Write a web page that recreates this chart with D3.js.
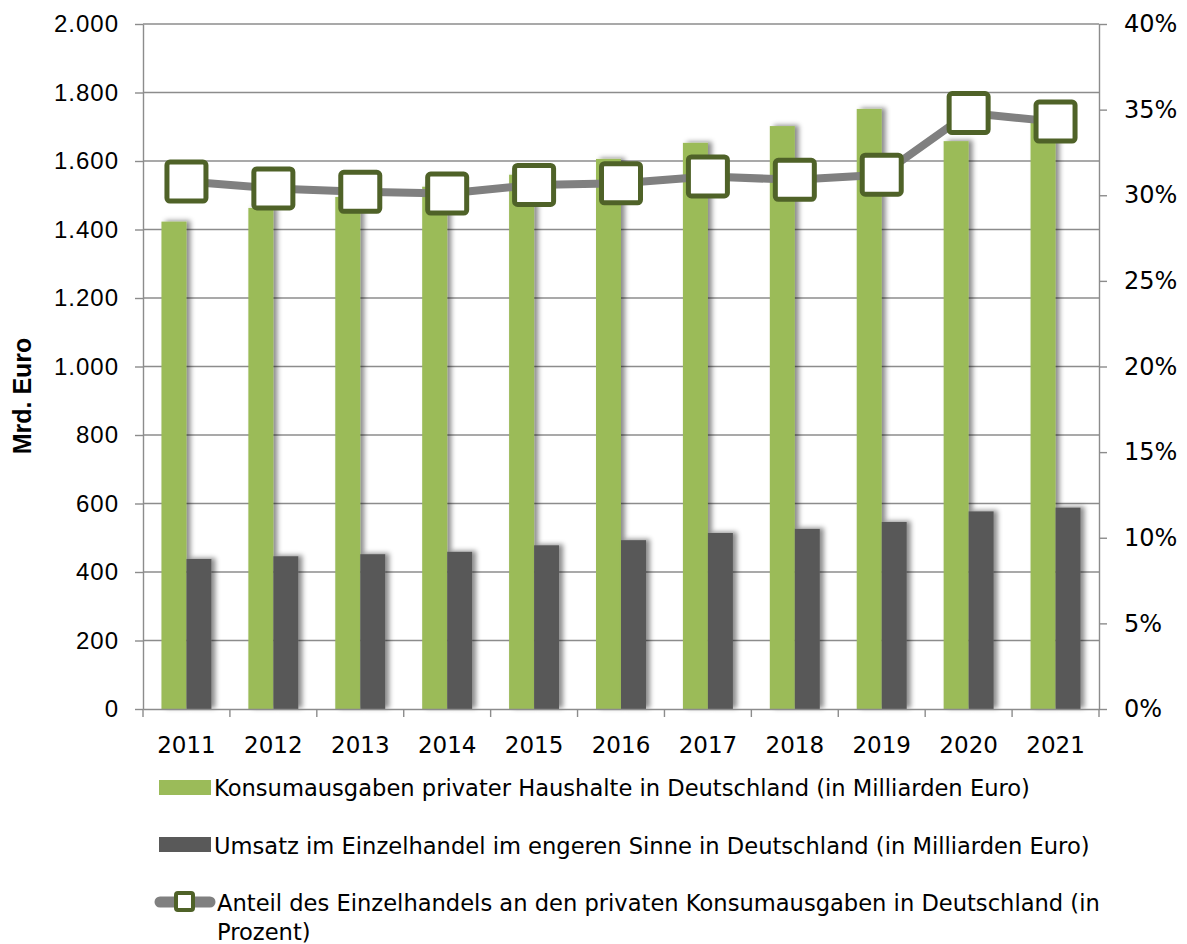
<!DOCTYPE html>
<html>
<head>
<meta charset="utf-8">
<script src="https://cdn.jsdelivr.net/npm/d3@7"></script>
<style>
  html, body { margin: 0; padding: 0; background: #fff; }
  svg { display: block; }
</style>
</head>
<body>
<svg id="chart" width="1187" height="944"></svg>
<script>
// Jahre (Kategorien)
const years = ["2011", "2012", "2013", "2014", "2015", "2016", "2017", "2018", "2019", "2020", "2021"];
// Konsumausgaben privater Haushalte (Mrd. Euro)
const konsum = [1423, 1463, 1495, 1525, 1560, 1606, 1653, 1702, 1752, 1658, 1715];
// Umsatz im Einzelhandel i.e.S. (Mrd. Euro)
const umsatz = [438, 446, 452, 459, 478, 493, 514, 526, 546, 577, 588];
// Anteil des Einzelhandels an den Konsumausgaben (%)
const anteil = [30.8, 30.4, 30.2, 30.1, 30.6, 30.7, 31.1, 30.9, 31.2, 34.8, 34.3];
// Achsenbeschriftungen
const leftTicks = [0, 200, 400, 600, 800, 1000, 1200, 1400, 1600, 1800, 2000];
const rightTicks = [0, 5, 10, 15, 20, 25, 30, 35, 40];
const legendLabels = [
  "Konsumausgaben privater Haushalte in Deutschland (in Milliarden Euro)",
  "Umsatz im Einzelhandel im engeren Sinne in Deutschland (in Milliarden Euro)",
  ["Anteil des Einzelhandels an den privaten Konsumausgaben in Deutschland (in", "Prozent)"]
];

const GREEN = "#9BBB59", DARK = "#595959", LINE = "#808080", MARK = "#4F6228", GRID = "#8C8C8C";
const LABEL_FONT = "'DejaVu Sans', sans-serif";
const NUM_FONT = "'Liberation Sans', Arial, sans-serif";

const svg = d3.select("#chart");
const plot = { left: 143, right: 1099, top: 24, bottom: 709 };

const x = d3.scaleBand().domain(years).range([plot.left, plot.right]).padding(0);
const sub = d3.scaleBand().domain(["konsum", "umsatz"]).range([0, x.bandwidth()]).paddingInner(0).paddingOuter(0.738);
const yL = d3.scaleLinear().domain([0, 2000]).range([plot.bottom, plot.top]);
const yR = d3.scaleLinear().domain([0, 40]).range([plot.bottom, plot.top]);

// Schatten für die Säulen
const defs = svg.append("defs");
const f = defs.append("filter").attr("id", "shadow").attr("x", "-30%").attr("y", "-10%").attr("width", "180%").attr("height", "120%");
f.append("feGaussianBlur").attr("in", "SourceAlpha").attr("stdDeviation", 2.5).attr("result", "b");
f.append("feOffset").attr("in", "b").attr("dx", 4).attr("dy", -1).attr("result", "o");
f.append("feFlood").attr("flood-color", "#000").attr("flood-opacity", 0.45).attr("result", "c");
f.append("feComposite").attr("in", "c").attr("in2", "o").attr("operator", "in").attr("result", "s");
const m = f.append("feMerge");
m.append("feMergeNode").attr("in", "s");
m.append("feMergeNode").attr("in", "SourceGraphic");

// Gitternetz
svg.append("g").selectAll("line").data(leftTicks.filter(d => d > 0)).join("line")
  .attr("x1", plot.left).attr("x2", plot.right)
  .attr("y1", d => yL(d)).attr("y2", d => yL(d))
  .attr("stroke", GRID).attr("stroke-width", 1.4);

// Säulen
const groups = svg.append("g").selectAll("g").data(years).join("g")
  .attr("transform", d => `translate(${x(d)},0)`);
groups.append("rect")
  .attr("x", sub("konsum")).attr("width", sub.bandwidth())
  .attr("y", (d, i) => yL(konsum[i])).attr("height", (d, i) => yL(0) - yL(konsum[i]))
  .attr("fill", GREEN).attr("filter", "url(#shadow)");
groups.append("rect")
  .attr("x", sub("umsatz")).attr("width", sub.bandwidth())
  .attr("y", (d, i) => yL(umsatz[i])).attr("height", (d, i) => yL(0) - yL(umsatz[i]))
  .attr("fill", DARK).attr("filter", "url(#shadow)");

// Achsen
const axisStyle = g => {
  g.select(".domain").attr("stroke", GRID).attr("stroke-width", 1.4);
  g.selectAll(".tick line").attr("stroke", GRID).attr("stroke-width", 1.4);
};
svg.append("g").attr("transform", `translate(${plot.left},0)`)
  .call(d3.axisLeft(yL).tickValues(leftTicks).tickSize(8).tickSizeOuter(0)
    .tickFormat(d => d3.format(",")(d).replace(/,/g, ".")))
  .call(axisStyle)
  .call(g => g.selectAll("text").attr("x", -24).attr("font-family", NUM_FONT).attr("font-size", 24)
    .attr("letter-spacing", 1).attr("fill", "#000"));

svg.append("g").attr("transform", `translate(${plot.right},0)`)
  .call(d3.axisRight(yR).tickValues(rightTicks).tickSize(8).tickSizeOuter(0).tickFormat(d => d + "%"))
  .call(axisStyle)
  .call(g => g.selectAll("text").attr("x", 25).attr("font-family", LABEL_FONT).attr("font-size", 24).attr("fill", "#000"));

const xAxis = svg.append("g").attr("transform", `translate(0,${plot.bottom})`)
  .call(d3.axisBottom(x).tickSize(0).tickSizeOuter(0))
  .call(axisStyle)
  .call(g => g.selectAll("text").attr("dy", 0).attr("y", 44).attr("font-family", LABEL_FONT).attr("font-size", 23).attr("fill", "#000"));
// Teilstriche an den Kategoriegrenzen
xAxis.append("g").selectAll("line").data(years.concat(["end"])).join("line")
  .attr("x1", (d, i) => i < years.length ? x(d) : plot.right)
  .attr("x2", (d, i) => i < years.length ? x(d) : plot.right)
  .attr("y1", 0).attr("y2", 8).attr("stroke", GRID).attr("stroke-width", 1.4);

// Linie mit Markern (Anteil in %)
const cx = d => x(d) + x.bandwidth() / 2;
svg.append("path").datum(years)
  .attr("d", d3.line().x(cx).y((d, i) => yR(anteil[i])))
  .attr("fill", "none").attr("stroke", LINE).attr("stroke-width", 8).attr("stroke-linejoin", "round");
const S = 39;
svg.append("g").selectAll("rect").data(years).join("rect")
  .attr("x", d => cx(d) - S / 2).attr("y", (d, i) => yR(anteil[i]) - S / 2)
  .attr("width", S).attr("height", S).attr("rx", 3)
  .attr("fill", "#fff").attr("stroke", MARK).attr("stroke-width", 5);

// Achsentitel
svg.append("text").attr("transform", "translate(31,396) rotate(-90)")
  .attr("text-anchor", "middle").attr("font-family", NUM_FONT).attr("font-weight", "bold")
  .attr("font-size", 25).text("Mrd. Euro");

// Legende
const lg = svg.append("g").attr("font-family", LABEL_FONT).attr("font-size", 22.6).attr("fill", "#000");
lg.append("rect").attr("x", 159).attr("y", 780).attr("width", 52).attr("height", 15).attr("fill", GREEN);
lg.append("text").attr("x", 214).attr("y", 796).text(legendLabels[0]);
lg.append("rect").attr("x", 159).attr("y", 837).attr("width", 52).attr("height", 15).attr("fill", DARK);
lg.append("text").attr("x", 214).attr("y", 854).text(legendLabels[1]);
lg.append("line").attr("x1", 160).attr("x2", 210).attr("y1", 902).attr("y2", 902)
  .attr("stroke", LINE).attr("stroke-width", 11).attr("stroke-linecap", "round");
lg.append("rect").attr("x", 176).attr("y", 893).attr("width", 17).attr("height", 17).attr("rx", 2)
  .attr("fill", "#fff").attr("stroke", MARK).attr("stroke-width", 4);
lg.append("text").attr("x", 217).attr("y", 911).text(legendLabels[2][0]);
lg.append("text").attr("x", 217).attr("y", 940).text(legendLabels[2][1]);
</script>
</body>
</html>
